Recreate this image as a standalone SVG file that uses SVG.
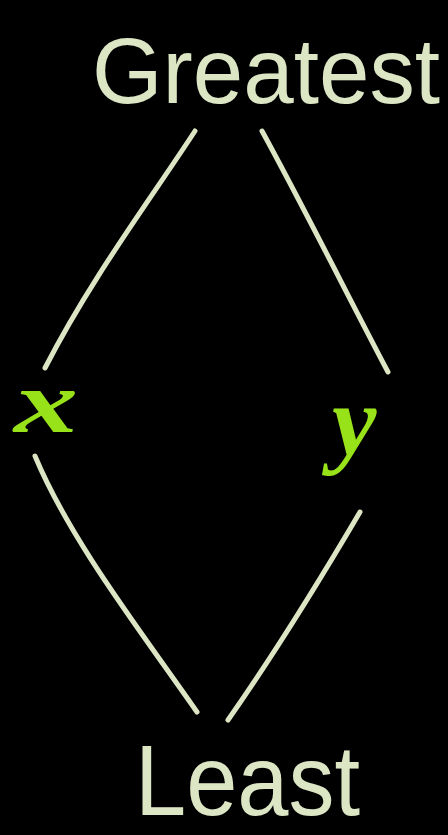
<svg xmlns="http://www.w3.org/2000/svg" width="448" height="835" viewBox="0 0 448 835">
<style>
.bg{fill:#000}
.lbl{fill:#dde6c4;font-family:"Liberation Sans",sans-serif}
.var{fill:#98e21a;font-family:"Liberation Serif",serif;font-style:italic;font-weight:bold}
.edge{stroke:#dde6c4;stroke-width:5;stroke-linecap:round;fill:none}
</style>
<rect class="bg" x="0" y="0" width="448" height="835"/>
<g id="connectors">
<path class="edge" d="M195,131 C150,200 90,280 45,368"/>
<path class="edge" d="M262,131 C300,200 350,300 388,372"/>
<path class="edge" d="M35,456 C70,540 140,630 197,712"/>
<path class="edge" d="M360,512 C320,580 270,660 228,720"/>
</g>
<g id="greatest"><text class="lbl" x="92" y="103" font-size="92" textLength="348" lengthAdjust="spacingAndGlyphs">Greatest</text></g>
<g id="x"><text class="var" x="14" y="432" font-size="88" textLength="64" lengthAdjust="spacingAndGlyphs">x</text></g>
<g id="y"><text class="var" x="332" y="455" font-size="100">y</text></g>
<g id="least"><text class="lbl" x="135" y="815" font-size="100" textLength="225" lengthAdjust="spacingAndGlyphs">Least</text></g>
</svg>
